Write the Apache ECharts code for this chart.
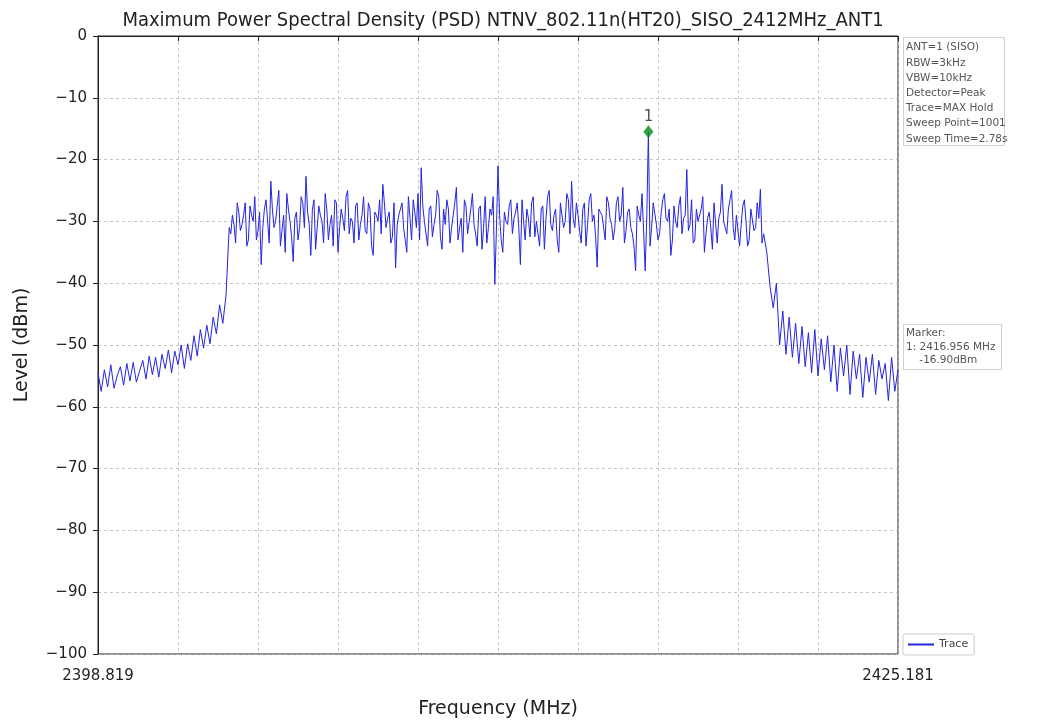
<!DOCTYPE html>
<html>
<head>
<meta charset="utf-8">
<script src="https://cdn.jsdelivr.net/npm/echarts@6/dist/echarts.min.js"></script>
<style>
html,body{margin:0;padding:0;background:#fff;}
#chart{width:1037px;height:724px;}
</style>
</head>
<body>
<div id="chart"></div>
<script>
// Sweep: 1001 points from 2398.819 to 2425.181 MHz
var startFreq = 2398.819;
var stopFreq = 2425.181;
var sweepPoints = 1001;
var xTickLabels = ['2398.819', '2425.181'];
var yTicks = [0, -10, -20, -30, -40, -50, -60, -70, -80, -90, -100];

// Lower skirt: read at sweep points 0,4,...,160
var lowerSkirt = [
-54.5,-57.5,-54,-56.8,-53.2,-57,-55,-53.5,-56.5,-53,
-55.8,-52.8,-56,-54.2,-52.5,-55.5,-51.8,-54.8,-52,-55.2,
-51.5,-53.8,-50.8,-54.5,-51,-53.2,-50,-53.8,-49.8,-52.5,
-48.5,-51.8,-47.5,-50.5,-46.8,-49.8,-45.5,-48.2,-43.5,-46.5,
-42
];
// Channel: read at sweep points 164,168,...,832
var channelEven = [
-31,-29,-33.5,-28.5,-30.5,-27,-33,-29,-26,-31.5,
-37,-28,-30,-23.5,-31,-27.5,-34,-29,-25.5,-30,
-36.5,-28.5,-31,-27,-22.7,-30.5,-28,-34.5,-27.5,-30,
-25.5,-33,-29,-26.5,-35,-28,-31.5,-25,-29.5,-33.5,
-27,-30.5,-26,-32,-28,-35.5,-29,-26.5,-24,-31,
-28.5,-32.5,-37.5,-29,-27,-31,-26,-33,-28.5,-25.5,
-21.3,-30,-34,-27.5,-30.5,-25,-32.5,-28,-26.5,-33.5,
-29,-24.5,-31,-35,-27.5,-30,-25.5,-32,-28,-34.5,
-26,-31,-29,-40.2,-21,-33,-28.5,-30.5,-26.5,-29.5,
-27,-37,-30,-28,-32.5,-26,-30,-34,-27.5,-29.5,
-25,-31.5,-28,-35,-27,-30,-26.5,-23.5,-31,-29,
-33.5,-27,-30.5,-25.5,-29,-37.4,-28.5,-31,-26,-29.5,
-33,-27,-30,-24.5,-31.5,-28,-32,-38,-29,-25.5,
-38,-15.5,-31,-27,-33,-28.5,-25.5,-30,-35.5,-27.5,
-31,-26,-29.5,-21.6,-30.5,-33.5,-28,-30,-26,-32,
-28.5,-34.5,-27,-29.5,-24,-31,-28,-25,-33,-29,
-30.5,-26.5,-34,-28,-31.5,-27,-24.8,-32
];
// Channel: read at sweep points 166,170,...,830
var channelOdd = [
-32,-30.5,-27,-31.5,-29,-34,-27.5,-30,-33,-28.5,
-31,-26.5,-33.5,-28,-30,-25,-31.5,-35,-28,-32.5,
-29.5,-33,-26,-31,-28.5,-35.5,-26.5,-31,-29,-33.5,
-28,-30.5,-34,-27,-31,-29.5,-26,-32,-30,-27.5,
-33,-29,-31.5,-27,-34,-28.5,-30,-32,-27,-29.5,
-33.5,-27,-30.5,-28,-31,-35,-29.5,-26.5,-31,-33,
-27.5,-30,-28,-32.5,-29,-26,-34.5,-30.5,-28,-31,
-27,-33,-29.5,-26.5,-32,-28,-30.5,-34,-27.5,-31,
-33.5,-28,-26,-31.5,-29,-35,-30,-27.5,-32,-28.5,
-31,-26.5,-33,-29.5,-27,-32.5,-30,-28,-34.5,-26,
-30.5,-29,-33,-27,-31,-25.5,-32,-29.5,-27,-31.5,
-28,-34,-26.5,-30,-32.5,-28,-29,-33,-27,-30.5,
-31,-26,-29,-33.5,-28.5,-31,-34,-27.5,-30,-31.5,
-29,-34,-27,-30.5,-32,-26.5,-29.5,-28,-33,-30,
-27.5,-32,-29,-31.5,-26.5,-33,-30,-28,-35,-29.5,
-31,-27,-33.5,-28.5,-30,-32,-26.5,-31,-29,-34,
-27.5,-30,-33,-28,-31,-29.5,-33.5
];
// Upper skirt: read at sweep points 836,840,...,1000
var upperSkirt = [
-35,-40.5,-44,-40,-50,-44.5,-51.5,-45.5,-52,-46.5,
-53,-47,-53.5,-48,-54.5,-47.5,-55,-49,-54,-48.5,
-56,-50,-57.5,-50.5,-55,-50,-58,-51,-55.5,-51.5,
-58.5,-52,-56,-51.5,-58,-52.5,-55.5,-53,-59,-52,
-57.5,-54
];
// Marker 1
var markerPoint = 688;
var markerFreq = '2416.956';
var markerLevel = -15.5;
var markerReadout = '-16.90dBm';
var infoLines = ['ANT=1 (SISO)', 'RBW=3kHz', 'VBW=10kHz', 'Detector=Peak', 'Trace=MAX Hold', 'Sweep Point=1001', 'Sweep Time=2.78s'];

var traceData = [];
lowerSkirt.forEach(function (v, i) { traceData.push([i * 4, v]); });
channelEven.forEach(function (v, k) {
  traceData.push([164 + k * 4, v]);
  if (k < channelOdd.length) traceData.push([166 + k * 4, channelOdd[k]]);
});
upperSkirt.forEach(function (v, i) { traceData.push([836 + i * 4, v]); });

var FONT = 'DejaVu Sans';
var chart = echarts.init(document.getElementById('chart'), null, {renderer: 'canvas'});
chart.setOption({
  animation: false,
  backgroundColor: '#fff',
  title: {
    text: 'Maximum Power Spectral Density (PSD) NTNV_802.11n(HT20)_SISO_2412MHz_ANT1',
    left: 498, textAlign: 'center', top: 6,
    textStyle: {fontFamily: 'DejaVu Sans Condensed, ' + FONT, fontSize: 20, fontWeight: 'normal', color: '#222'}
  },
  grid: {left: 98, right: 139, top: 36, bottom: 68, show: true, borderColor: '#222', borderWidth: 1, backgroundColor: 'transparent'},
  legend: {
    data: [{name: 'Trace'}],
    left: 903, top: 634,
    icon: 'rect', itemWidth: 26, itemHeight: 2,
    backgroundColor: '#fff', borderColor: '#ccc', borderWidth: 1, borderRadius: 2,
    padding: [5, 6, 5, 5],
    textStyle: {fontFamily: FONT, fontSize: 11, color: '#444'}
  },
  xAxis: {
    type: 'value', min: 0, max: sweepPoints - 1, interval: 100,
    name: 'Frequency (MHz)', nameLocation: 'middle', nameGap: 46,
    nameTextStyle: {fontFamily: FONT, fontSize: 19, color: '#222'},
    axisLine: {show: true, lineStyle: {color: '#222', width: 1}},
    axisTick: {show: true, inside: false, length: 5, lineStyle: {color: '#222'}},
    axisLabel: {
      fontFamily: FONT, fontSize: 15, color: '#222', margin: 15, showMinLabel: true, showMaxLabel: true,
      formatter: function (v) { if (v === 0) return xTickLabels[0]; if (v === sweepPoints - 1) return xTickLabels[1]; return ''; }
    },
    splitLine: {show: true, lineStyle: {color: '#b8b8b8', type: [3, 3], width: 0.8}}
  },
  yAxis: {
    type: 'value', min: yTicks[yTicks.length - 1], max: yTicks[0], interval: 10,
    name: 'Level (dBm)', nameLocation: 'middle', nameGap: 66,
    nameTextStyle: {fontFamily: FONT, fontSize: 19, color: '#222'},
    axisLine: {show: true, lineStyle: {color: '#222', width: 1}},
    axisTick: {show: true, inside: false, length: 5, lineStyle: {color: '#222'}},
    axisLabel: {
      fontFamily: FONT, fontSize: 15, color: '#222', margin: 11,
      formatter: function (v) { return String(v).replace('-', '\u2212'); }
    },
    splitLine: {show: true, lineStyle: {color: '#b8b8b8', type: [3, 3], width: 0.8}}
  },
  series: [
    {
      name: 'Trace', type: 'line', data: traceData, showSymbol: false, symbol: 'none',
      lineStyle: {color: '#2424e0', width: 1}, itemStyle: {color: '#2424e0'}, z: 3
    },
    {
      name: 'Marker', type: 'scatter', data: [[markerPoint, markerLevel]],
      symbol: 'diamond', symbolSize: [10, 13], itemStyle: {color: '#0a8a1a'}, z: 4,
      label: {show: true, formatter: '1', position: 'top', distance: 1, fontFamily: FONT, fontSize: 15, color: '#222'}
    }
  ],
  graphic: [
    {type: 'rect', left: 903, top: 37, shape: {width: 101, height: 108}, style: {fill: '#fff', stroke: '#d0d0d0', lineWidth: 1}},
    {type: 'text', left: 906, top: 40, style: {text: infoLines.join('\n'), fontFamily: FONT, fontSize: 10.5, lineHeight: 15.2, fill: '#555'}},
    {type: 'rect', left: 903, top: 324, shape: {width: 98, height: 45}, style: {fill: '#fff', stroke: '#d0d0d0', lineWidth: 1}},
    {type: 'text', left: 906, top: 327, style: {text: 'Marker:\n1: ' + markerFreq + ' MHz\n    ' + markerReadout, fontFamily: FONT, fontSize: 10.5, lineHeight: 13.5, fill: '#555'}}
  ]
});
</script>
</body>
</html>
